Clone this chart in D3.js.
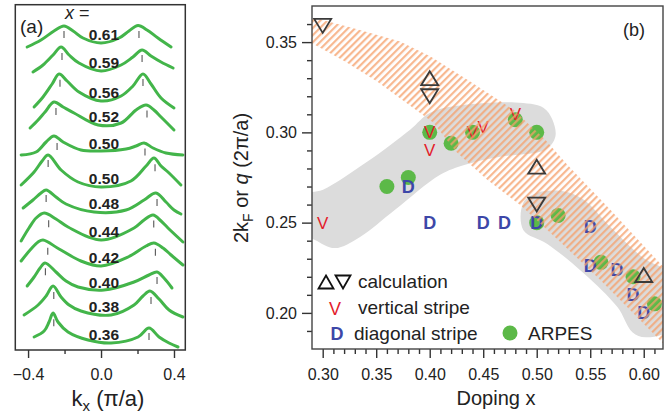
<!DOCTYPE html>
<html>
<head>
<meta charset="utf-8">
<script src="https://cdnjs.cloudflare.com/ajax/libs/d3/7.8.5/d3.min.js"></script>
<style>
  body { margin: 0; background: #fff; }
  text { font-family: "Liberation Sans", Arial, sans-serif; fill: #222; }
</style>
</head>
<body>
<svg id="chart" width="670" height="416"></svg>
<script>
// ---- panel (a): MDC curves, top to bottom, [kx, intensity (arb. units, stacked)]
const dopings = ["0.61", "0.59", "0.56", "0.52", "0.50", "0.50", "0.48", "0.44", "0.42", "0.40", "0.38", "0.36"];
const mdc = [
  [[-0.405,30.3],[-0.329,31.0],[-0.258,31.9],[-0.203,32.4],[-0.153,31.9],[-0.099,31.2],[0,30.7],[0.099,31.2],[0.153,31.9],[0.203,32.45],[0.252,32.0],[0.312,31.2],[0.384,30.3]],
  [[-0.373,27.8],[-0.318,28.5],[-0.263,29.5],[-0.219,30.3],[-0.175,29.5],[-0.121,28.7],[0,27.9],[0.110,28.5],[0.175,29.3],[0.225,30.0],[0.274,29.4],[0.329,28.8],[0.395,28.2]],
  [[-0.367,24.3],[-0.318,25.3],[-0.268,26.6],[-0.230,27.6],[-0.186,26.9],[-0.121,25.8],[0,24.9],[0.110,25.4],[0.175,26.4],[0.230,27.6],[0.274,26.6],[0.329,25.2],[0.400,24.2]],
  [[-0.389,22.2],[-0.345,23.0],[-0.307,23.8],[-0.258,24.8],[-0.208,24.3],[-0.148,23.7],[-0.016,22.5],[0.110,22.7],[0.192,24.0],[0.247,24.5],[0.290,24.0],[0.329,23.3],[0.400,22.0]],
  [[-0.438,19.5],[-0.356,19.8],[-0.301,20.8],[-0.258,21.4],[-0.208,20.8],[-0.110,20.0],[0,19.9],[0.137,20.1],[0.192,20.4],[0.236,20.7],[0.285,20.2],[0.356,19.7],[0.449,19.5]],
  [[-0.438,16.5],[-0.367,17.8],[-0.323,18.9],[-0.290,19.5],[-0.219,18.0],[-0.126,16.8],[0,16.3],[0.164,16.9],[0.247,18.4],[0.290,19.2],[0.329,18.4],[0.367,17.8],[0.438,16.5]],
  [[-0.427,14.2],[-0.373,15.0],[-0.329,15.7],[-0.301,16.0],[-0.247,15.3],[-0.192,14.6],[-0.038,13.8],[0.137,14.0],[0.236,15.0],[0.301,15.7],[0.356,14.8],[0.400,14.0],[0.438,13.6]],
  [[-0.438,10.9],[-0.395,12.2],[-0.356,13.2],[-0.312,13.7],[-0.247,13.1],[-0.181,12.3],[0,11.0],[0.181,12.2],[0.236,13.0],[0.285,13.5],[0.329,12.9],[0.367,12.2],[0.449,10.8]],
  [[-0.438,8.9],[-0.384,10.1],[-0.345,10.8],[-0.318,11.0],[-0.230,10.1],[-0.110,8.9],[0,8.4],[0.148,9.3],[0.247,10.4],[0.290,10.7],[0.340,10.2],[0.384,9.5],[0.449,8.5]],
  [[-0.405,6.4],[-0.367,7.3],[-0.334,8.2],[-0.307,8.7],[-0.247,7.8],[-0.192,6.9],[-0.126,6.3],[0.016,6.0],[0.181,6.8],[0.263,7.5],[0.307,7.8],[0.345,7.2],[0.389,6.2]],
  [[-0.422,3.5],[-0.345,4.5],[-0.301,5.4],[-0.263,6.4],[-0.219,5.3],[-0.175,4.5],[-0.110,3.9],[0.055,3.5],[0.181,4.5],[0.230,5.4],[0.268,5.9],[0.318,5.1],[0.373,4.0],[0.449,3.3]],
  [[-0.367,1.3],[-0.312,1.9],[-0.285,2.8],[-0.263,3.7],[-0.236,2.8],[-0.181,1.8],[-0.071,1.0],[0.055,0.7],[0.203,1.3],[0.263,2.2],[0.318,1.3],[0.373,0.7],[0.422,0.3]]
];
const kfLeft  = [-0.203, -0.214, -0.225, -0.247, -0.241, -0.290, -0.301, -0.287, -0.292, -0.305, -0.259, -0.259];
const kfRight = [ 0.208,  0.225,  0.230,  0.252,  0.241,  0.296,  0.307,  0.289,  0.298,  0.307,  0.274,  0.263];
const kxTicks = [-0.4, 0.0, 0.4];
const kxMinor = [-0.2, 0.2];

// ---- panel (b): doping x vs 2kF or q
const calcUp   = [[0.40, 0.330], [0.50, 0.281], [0.60, 0.221]];
const calcDown = [[0.30, 0.359], [0.40, 0.320], [0.50, 0.260]];
const vertical = [[0.30, 0.250], [0.40, 0.300], [0.40, 0.290], [0.44, 0.300], [0.45, 0.303], [0.48, 0.310]];
const diagonal = [[0.38, 0.270], [0.40, 0.250], [0.45, 0.250], [0.47, 0.250], [0.50, 0.250], [0.55, 0.248],
                  [0.55, 0.226], [0.575, 0.224], [0.59, 0.210], [0.60, 0.200]];
const arpes    = [[0.36, 0.270], [0.38, 0.275], [0.40, 0.300], [0.42, 0.294], [0.44, 0.300], [0.48, 0.307],
                  [0.50, 0.300], [0.50, 0.250], [0.52, 0.254], [0.56, 0.228], [0.59, 0.220], [0.61, 0.205]];
// hatched (orange) band, upper and lower edge
const bandUpper = [[0.28, 0.366], [0.290, 0.3637], [0.3255, 0.3582], [0.3723, 0.3504], [0.4004, 0.3421], [0.4378, 0.3282],
                   [0.4781, 0.3126], [0.5080, 0.2959], [0.5286, 0.2821], [0.5688, 0.2571], [0.63, 0.218]];
const bandLower = [[0.28, 0.352], [0.290, 0.3493], [0.3209, 0.3393], [0.3508, 0.3282], [0.4032, 0.3054], [0.4247, 0.2893],
                   [0.4537, 0.2737], [0.4846, 0.2598], [0.5220, 0.2393], [0.5594, 0.2182], [0.63, 0.176]];
// grey shaded regions
const greyLeft = [[0.285, 0.2654], [0.3003, 0.2682], [0.3415, 0.2837], [0.3817, 0.3015], [0.4004, 0.3109], [0.4350, 0.3154],
                  [0.4799, 0.3165], [0.5062, 0.3137], [0.5146, 0.3071], [0.5174, 0.2976], [0.5080, 0.2904], [0.4659, 0.2865],
                  [0.4331, 0.2821], [0.4097, 0.2765], [0.3676, 0.2571], [0.3349, 0.2421], [0.3115, 0.2359], [0.2928, 0.2404], [0.285, 0.2432]];
const greyRight = [[0.4874, 0.2609], [0.5005, 0.2665], [0.5220, 0.2676], [0.5426, 0.2632], [0.5688, 0.2476], [0.5997, 0.2304],
                   [0.625, 0.221], [0.625, 0.191], [0.6016, 0.1865], [0.5894, 0.1893], [0.5754, 0.2032], [0.5436, 0.2221],
                   [0.5099, 0.2382], [0.4874, 0.2459]];
const xTicksB = [0.30, 0.35, 0.40, 0.45, 0.50, 0.55, 0.60];
const yTicksB = [0.20, 0.25, 0.30, 0.35];

const svg = d3.select("#chart");
const green = "#43b54a";
const dotGreen = "#5cb948";

// ================= panel (a) =================
const xa = d3.scaleLinear().domain([-0.47, 0.462]).range([15.3, 185.3]);
const ya = d3.scaleLinear().domain([0, 34.5]).range([350, 5]);

function valueAt(pts, k) {
  for (let i = 0; i < pts.length - 1; i++) {
    if (k >= pts[i][0] && k <= pts[i + 1][0]) {
      const t = (k - pts[i][0]) / (pts[i + 1][0] - pts[i][0]);
      return pts[i][1] + t * (pts[i + 1][1] - pts[i][1]);
    }
  }
  return pts[0][1];
}

const pa = svg.append("g");
const lineA = d3.line().x(d => xa(d[0])).y(d => ya(d[1])).curve(d3.curveCatmullRom.alpha(0.5));

pa.selectAll("path.mdc").data(mdc).enter().append("path")
  .attr("class", "mdc")
  .attr("d", lineA)
  .attr("fill", "none")
  .attr("stroke", green)
  .attr("stroke-width", 3)
  .attr("stroke-linejoin", "round")
  .attr("stroke-linecap", "round");

// kF markers under the peaks
mdc.forEach(function(c, i) {
  [kfLeft[i], kfRight[i]].forEach(function(k) {
    const yy = ya(valueAt(c, k));
    pa.append("line")
      .attr("x1", xa(k)).attr("x2", xa(k))
      .attr("y1", yy + 5).attr("y2", yy + 12)
      .attr("stroke", "#555").attr("stroke-width", 1.1);
  });
  pa.append("text")
    .attr("x", xa(0.016))
    .attr("y", ya(valueAt(c, 0.016)) - 2)
    .attr("text-anchor", "middle")
    .style("font-size", "15.5px")
    .style("font-weight", "bold")
    .text(dopings[i]);
});

pa.append("rect")
  .attr("x", 15.3).attr("y", 4.7).attr("width", 170).attr("height", 345.3)
  .attr("fill", "none").attr("stroke", "#333").attr("stroke-width", 1.5);

const axA = pa.append("g").attr("transform", "translate(0,350)")
  .call(d3.axisBottom(xa).tickValues(kxTicks).tickSize(8).tickPadding(11).tickFormat(d3.format(".1f")));
axA.select(".domain").remove();
axA.selectAll("text").style("font-size", "16px").style("fill", "#222");
axA.selectAll("line").attr("stroke", "#333").attr("stroke-width", 1.4);
const axAm = pa.append("g").attr("transform", "translate(0,350)")
  .call(d3.axisBottom(xa).tickValues(kxMinor).tickSize(4).tickFormat(""));
axAm.select(".domain").remove();
axAm.selectAll("line").attr("stroke", "#333").attr("stroke-width", 1.4);

pa.append("text").attr("x", 20).attr("y", 33).style("font-size", "19px").text("(a)");
const xeq = pa.append("text").attr("x", 65).attr("y", 19).style("font-size", "18px");
xeq.append("tspan").style("font-style", "italic").text("x");
xeq.append("tspan").text(" =");

const kt = pa.append("text").attr("x", 108).attr("y", 406).attr("text-anchor", "middle").style("font-size", "22px");
kt.append("tspan").text("k");
kt.append("tspan").attr("dy", 5).style("font-size", "15px").text("x");
kt.append("tspan").attr("dy", -5).text(" (\u03c0/a)");

// ================= panel (b) =================
const xb = d3.scaleLinear().domain([0.29, 0.618]).range([312, 663]);
const yb = d3.scaleLinear().domain([0.18, 0.37]).range([349, 6]);

const defs = svg.append("defs");
defs.append("pattern")
  .attr("id", "hatch")
  .attr("patternUnits", "userSpaceOnUse")
  .attr("width", 5).attr("height", 5)
  .attr("patternTransform", "rotate(45)")
  .append("rect").attr("width", 2.2).attr("height", 5).attr("fill", "#f5a06b");
defs.append("clipPath").attr("id", "plotb")
  .append("rect").attr("x", 312).attr("y", 6).attr("width", 351).attr("height", 343);

const pb = svg.append("g");
const inner = pb.append("g").attr("clip-path", "url(#plotb)");

const blob = d3.line().x(d => xb(d[0])).y(d => yb(d[1])).curve(d3.curveCatmullRomClosed.alpha(0.5));
inner.selectAll("path.grey").data([greyLeft, greyRight]).enter().append("path")
  .attr("class", "grey").attr("d", blob).attr("fill", "#dcdcdc");

inner.selectAll("circle.arpes").data(arpes).enter().append("circle")
  .attr("class", "arpes")
  .attr("cx", d => xb(d[0])).attr("cy", d => yb(d[1])).attr("r", 7.5)
  .attr("fill", dotGreen);

inner.selectAll("text.diag").data(diagonal).enter().append("text")
  .attr("class", "diag")
  .attr("x", d => xb(d[0])).attr("y", d => yb(d[1]) + 6.5)
  .attr("text-anchor", "middle")
  .style("font-size", "18px").style("font-weight", "bold").style("fill", "#3d47a8")
  .text("D");

inner.selectAll("text.vert").data(vertical).enter().append("text")
  .attr("class", "vert")
  .attr("x", d => xb(d[0])).attr("y", d => yb(d[1]) + 6)
  .attr("text-anchor", "middle")
  .style("font-size", "17px").style("fill", "#e3202b")
  .text("V");

const band = d3.line().x(d => xb(d[0])).y(d => yb(d[1])).curve(d3.curveLinearClosed);
inner.append("path")
  .attr("d", band(bandUpper.concat(bandLower.slice().reverse())))
  .attr("fill", "url(#hatch)")
  .attr("opacity", 0.75);

function triPath(up, w, h) {
  return up ? `M0,${-h / 2}L${w / 2},${h / 2}L${-w / 2},${h / 2}Z`
            : `M0,${h / 2}L${w / 2},${-h / 2}L${-w / 2},${-h / 2}Z`;
}
inner.selectAll("path.up").data(calcUp).enter().append("path")
  .attr("class", "up")
  .attr("transform", d => `translate(${xb(d[0])},${yb(d[1])})`)
  .attr("d", triPath(true, 17, 14))
  .attr("fill", "none").attr("stroke", "#3a3a3a").attr("stroke-width", 1.8);
inner.selectAll("path.down").data(calcDown).enter().append("path")
  .attr("class", "down")
  .attr("transform", d => `translate(${xb(d[0])},${yb(d[1])})`)
  .attr("d", triPath(false, 17, 14))
  .attr("fill", "none").attr("stroke", "#3a3a3a").attr("stroke-width", 1.8);

// axes
const axX = pb.append("g").attr("transform", "translate(0,349)")
  .call(d3.axisBottom(xb).tickValues(xTicksB).tickSize(9).tickPadding(11).tickFormat(d3.format(".2f")));
const axXm = pb.append("g").attr("transform", "translate(0,349)")
  .call(d3.axisBottom(xb).tickValues(d3.range(31, 62).map(v => v / 100).filter(v => Math.round(v * 100) % 5 !== 0)).tickSize(5).tickFormat(""));
const axY = pb.append("g").attr("transform", "translate(312,0)")
  .call(d3.axisLeft(yb).tickValues(yTicksB).tickSize(10).tickPadding(5).tickFormat(d3.format(".2f")));
const axYm = pb.append("g").attr("transform", "translate(312,0)")
  .call(d3.axisLeft(yb).tickValues(d3.range(19, 37).map(v => v / 100).filter(v => Math.round(v * 100) % 5 !== 0)).tickSize(5).tickFormat(""));
[axX, axXm, axY, axYm].forEach(function(a) {
  a.select(".domain").remove();
  a.selectAll("line").attr("stroke", "#333").attr("stroke-width", 1.4);
  a.selectAll("text").style("font-size", "16px").style("fill", "#222");
});

pb.append("rect")
  .attr("x", 312).attr("y", 6).attr("width", 351).attr("height", 343)
  .attr("fill", "none").attr("stroke", "#444").attr("stroke-width", 1.4);

pb.append("text").attr("x", 623).attr("y", 36).style("font-size", "18px").text("(b)");

const yt = pb.append("text")
  .attr("transform", "translate(248,178) rotate(-90)")
  .attr("text-anchor", "middle")
  .style("font-size", "20px");
yt.append("tspan").text("2k");
yt.append("tspan").attr("dy", 5).style("font-size", "14px").text("F");
yt.append("tspan").attr("dy", -5).text(" or ");
yt.append("tspan").style("font-style", "italic").text("q");
yt.append("tspan").text(" (2\u03c0/a)");

pb.append("text").attr("x", 496).attr("y", 405).attr("text-anchor", "middle")
  .style("font-size", "20px").text("Doping x");

// legend
const lg = pb.append("g");
lg.append("path").attr("transform", "translate(326,282)").attr("d", triPath(true, 15, 13))
  .attr("fill", "none").attr("stroke", "#111").attr("stroke-width", 1.8);
lg.append("path").attr("transform", "translate(343,282)").attr("d", triPath(false, 15, 13))
  .attr("fill", "none").attr("stroke", "#111").attr("stroke-width", 1.8);
lg.append("text").attr("x", 358).attr("y", 288).style("font-size", "19px").text("calculation");
lg.append("text").attr("x", 335).attr("y", 315).attr("text-anchor", "middle")
  .style("font-size", "18px").style("fill", "#e3202b").text("V");
lg.append("text").attr("x", 358).attr("y", 314).style("font-size", "19px").text("vertical stripe");
lg.append("text").attr("x", 337).attr("y", 339.5).attr("text-anchor", "middle")
  .style("font-size", "18px").style("font-weight", "bold").style("fill", "#3d47a8").text("D");
lg.append("text").attr("x", 354).attr("y", 339.5).style("font-size", "19px").text("diagonal stripe");
lg.append("circle").attr("cx", 510).attr("cy", 333).attr("r", 7.5).attr("fill", dotGreen);
lg.append("text").attr("x", 528).attr("y", 339.5).style("font-size", "19px").text("ARPES");
</script>
</body>
</html>
